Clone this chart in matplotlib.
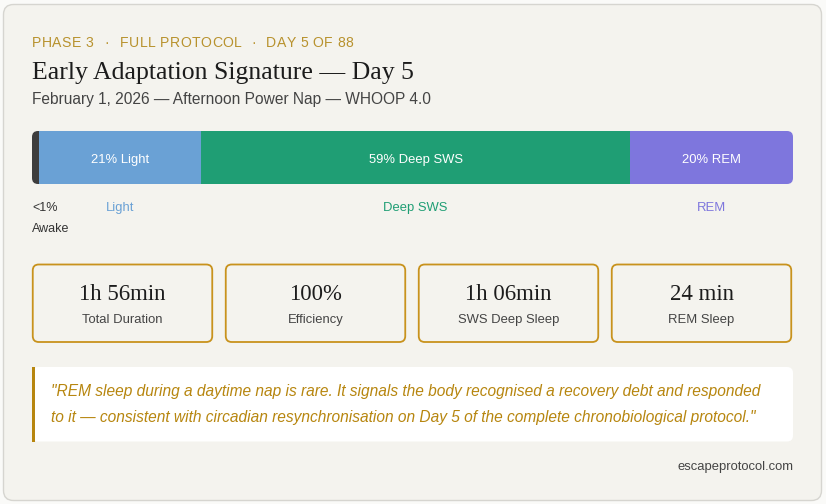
import matplotlib
matplotlib.use("Agg")
import matplotlib.pyplot as plt
from matplotlib.patches import FancyBboxPatch, Rectangle
from matplotlib.transforms import blended_transform_factory
import numpy as np

# ---------------- data ----------------
header_parts = ["PHASE 3", "FULL PROTOCOL", "DAY 5 OF 88"]
title = "Early Adaptation Signature \u2014 Day 5"
subtitle = "February 1, 2026 \u2014 Afternoon Power Nap \u2014 WHOOP 4.0"

stages = ["Awake", "Light", "Deep SWS", "REM"]
stage_share = [0.9, 21.3, 56.4, 21.4]          # bar widths (% of nap)
stage_bar_labels = ["", "21% Light", "59% Deep SWS", "20% REM"]
stage_colors = ["#3d3d3d", "#6aa1d5", "#1f9e74", "#7e76dd"]
awake_label = ["<1%", "Awake"]

metric_values = ["1h 56min", "100%", "1h 06min", "24 min"]
metric_labels = ["Total Duration", "Efficiency", "SWS Deep Sleep", "REM Sleep"]

quote_lines = [
    "\"REM sleep during a daytime nap is rare. It signals the body recognised a recovery debt and responded",
    "to it \u2014 consistent with circadian resynchronisation on Day 5 of the complete chronobiological protocol.\"",
]
footer = "escapeprotocol.com"

# ---------------- styling ----------------
W, H = 826, 504
PT = 0.72  # px -> pt at dpi 100
BG = "#f4f3ee"
GOLD = "#b8922e"
GOLD_BORDER = "#c8921c"
QUOTE_GOLD = "#b7860f"
SANS = ["Liberation Sans", "DejaVu Sans"]
SERIF = ["Liberation Serif", "DejaVu Serif"]

fig = plt.figure(figsize=(W / 100, H / 100), dpi=100)
fig.patch.set_facecolor("#fafaf8")
ax = fig.add_axes([0, 0, 1, 1])
ax.set_xlim(0, W)
ax.set_ylim(H, 0)
ax.axis("off")

# outer card
ax.add_patch(FancyBboxPatch((3.5, 4.5), 818, 496, boxstyle="round,pad=0,rounding_size=10",
                            facecolor=BG, edgecolor="#d6d5d0", linewidth=1.0))

# header (slightly letter-spaced, drawn char by char)
renderer = fig.canvas.get_renderer()
def spaced_text(x, y, s, size_px, color, spacing):
    for ch in s:
        t = ax.text(x, y, ch, fontsize=size_px * PT, color=color, family=SANS,
                    ha="left", va="baseline")
        w = t.get_window_extent(renderer=renderer).width
        if ch == " ":
            w = size_px * 0.278
        x += w + spacing

hx = [32, 120, 266]
for x, part in zip(hx, header_parts):
    spaced_text(x, 47, part, 14.0, GOLD, 0.4)
for x in [107, 254]:
    ax.text(x, 47, "\u00b7", fontsize=14 * PT, color=GOLD, family=SANS, ha="center", va="baseline")

ax.text(32, 79, title, fontsize=25.7 * PT, color="#1c1c1c", family=SERIF, ha="left", va="baseline")
ax.text(32, 104, subtitle, fontsize=15.5 * PT, color="#444444", family=SANS, ha="left", va="baseline")

# ---------------- stage bar ----------------
bx0, bx1, by0, by1 = 32, 793, 131, 184
bax = fig.add_axes([bx0 / W, 1 - by1 / H, (bx1 - bx0) / W, (by1 - by0) / H])
bax.set_xlim(0, sum(stage_share))
bax.set_ylim(-0.5, 0.5)
bax.axis("off")
bax.patch.set_alpha(0)

clip = FancyBboxPatch((bx0, by0), bx1 - bx0, by1 - by0, boxstyle="round,pad=0,rounding_size=6",
                      transform=ax.transData, facecolor="none", edgecolor="none")
lefts = np.concatenate([[0], np.cumsum(stage_share)[:-1]])
bars = bax.barh([0], stage_share, left=lefts, height=1.0, color=stage_colors, linewidth=0)
for b in bars:
    b.set_clip_path(clip)
# faint light outline around the bar
ax.add_patch(FancyBboxPatch((bx0 - 0.5, by0 - 0.5), bx1 - bx0 + 1, by1 - by0 + 1,
                            boxstyle="round,pad=0,rounding_size=6.5",
                            facecolor="none", edgecolor="#ffffff", linewidth=1.0, zorder=0))

below = blended_transform_factory(bax.transData, ax.transData)
for i, (name, lab) in enumerate(zip(stages, stage_bar_labels)):
    cx = lefts[i] + stage_share[i] / 2
    if lab:
        bax.text(cx, 163, lab, transform=below, fontsize=13 * PT, color="white",
                 family=SANS, ha="center", va="baseline")
    if i == 0:
        bax.text(lefts[i], 211, awake_label[0], transform=below, fontsize=12.5 * PT,
                 color="#333333", family=SANS, ha="left", va="baseline")
        bax.text(lefts[i], 232.5, awake_label[1], transform=below, fontsize=12.5 * PT,
                 color="#333333", family=SANS, ha="left", va="baseline")
    else:
        bax.text(cx, 211, name, transform=below, fontsize=13 * PT, color=stage_colors[i],
                 family=SANS, ha="center", va="baseline")

# ---------------- metric cards ----------------
card_x = [32, 225, 418, 611]
card_w = 181
for x, v, l in zip(card_x, metric_values, metric_labels):
    ax.add_patch(FancyBboxPatch((x + 0.75, 264.5), card_w - 1.5, 77.5,
                                boxstyle="round,pad=0,rounding_size=6",
                                facecolor=BG, edgecolor=GOLD_BORDER, linewidth=1.3))
    cx = x + card_w / 2
    ax.text(cx, 299.5, v, fontsize=22.8 * PT, color="#1c1c1c", family=SERIF, ha="center", va="baseline")
    ax.text(cx, 323, l, fontsize=13 * PT, color="#444444", family=SANS, ha="center", va="baseline")

# ---------------- quote ----------------
ax.add_patch(FancyBboxPatch((32, 367), 761, 74.5, boxstyle="round,pad=0,rounding_size=6",
                            facecolor="white", edgecolor="none"))
ax.add_patch(Rectangle((32, 367), 3, 74.5, facecolor=QUOTE_GOLD, edgecolor="none"))
for i, line in enumerate(quote_lines):
    ax.text(51, 396 + 26 * i, line, fontsize=15.53 * PT, color=QUOTE_GOLD, family=SANS,
            style="italic", ha="left", va="baseline")

ax.text(793, 470, footer, fontsize=13 * PT, color="#444444", family=SANS, ha="right", va="baseline")

fig.savefig("out.png", dpi=100, facecolor=fig.get_facecolor())
